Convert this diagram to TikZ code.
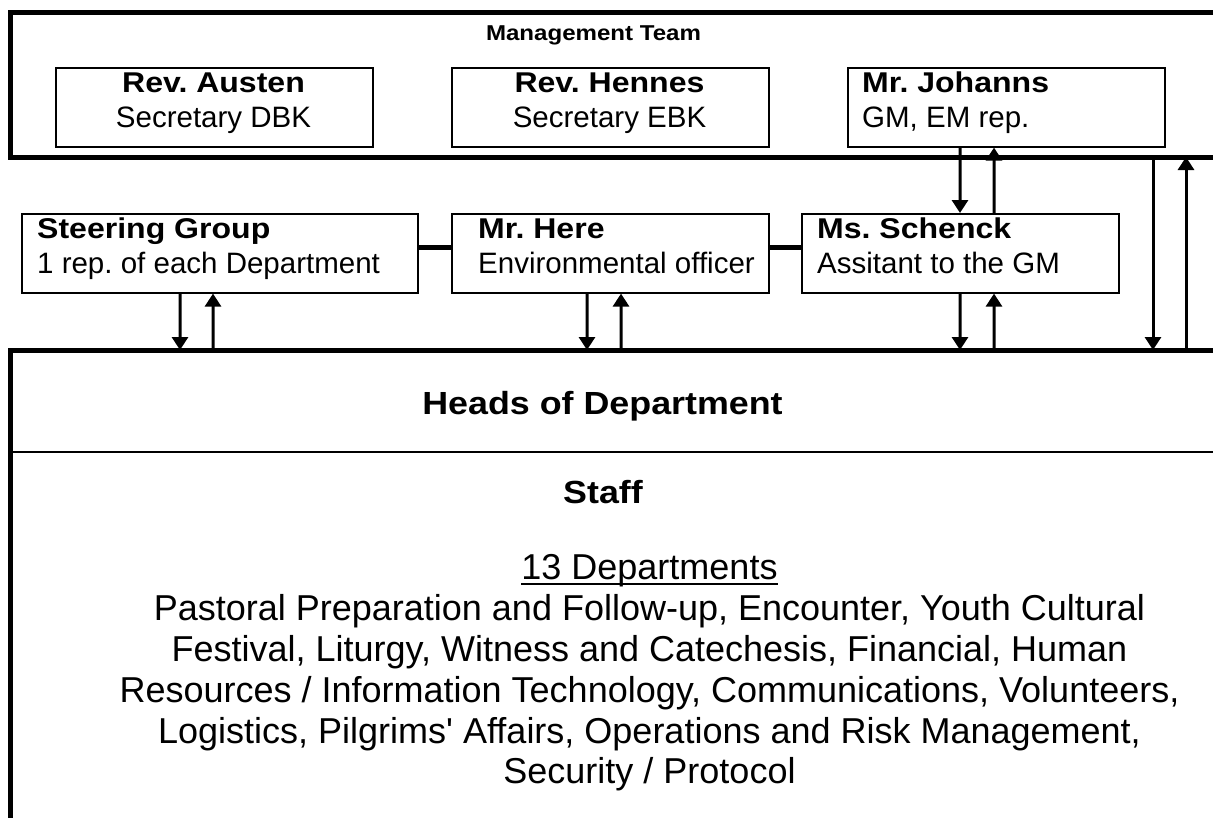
\documentclass[tikz,border=0pt]{standalone}
\usepackage{fontspec}
\newfontfamily\arial{Liberation Sans}
\newfontfamily\arialb{Liberation Sans}[FakeStretch=1.12]
\usetikzlibrary{arrows.meta}
\frenchspacing
\begin{document}
\begin{tikzpicture}[x=1bp,y=-1bp,
  frame/.style={line width=5bp},
  thin/.style={line width=2bp},
  box/.style={draw, line width=1.6bp, rectangle, inner sep=0pt, anchor=north west,
    minimum width=317bp, minimum height=79bp},
  arr/.style={line width=3bp, -{Triangle[width=16bp,length=13bp]}},
  link/.style={line width=5bp},
  nm/.style={font=\arialb\bfseries\fontsize{28.6bp}{34bp}\selectfont, inner sep=0pt},
  sub/.style={font=\arial\fontsize{29.5bp}{35bp}\selectfont, inner sep=0pt},
  big/.style={font=\arialb\bfseries\fontsize{32bp}{38bp}\selectfont, inner sep=0pt, anchor=base},
  dept/.style={font=\arial\fontsize{36bp}{41bp}\selectfont, inner sep=0pt, anchor=base},
  small/.style={font=\arialb\bfseries\fontsize{21.5bp}{26bp}\selectfont, inner sep=0pt, anchor=base}
]
\useasboundingbox (0,0) rectangle (1213,818);
\clip (0,0) rectangle (1213,818);

% Management team frame
\coordinate (mtTR) at (1230,13);
\coordinate (mtTL) at (10.5,13);
\coordinate (mtBL) at (10.5,157);
\coordinate (mtBR) at (1230,157);
\draw[frame] (mtTR) -- (mtTL) -- (mtBL) -- (mtBR);
\node[small] (mt) at (593.5,41) {Management Team};

% Heads of department frame
\coordinate (hdTR) at (1230,350);
\coordinate (hdTL) at (10.5,350);
\coordinate (hdBL) at (10.5,830);
\draw[frame] (hdTR) -- (hdTL) -- (hdBL);
\coordinate (sfL) at (10.5,452);
\coordinate (sfR) at (1230,452);
\draw[thin] (sfL) -- (sfR);

% Top row boxes
\node[box] (austen) at (55,67) {};
\node[box] (hennes) at (451,67) {};
\node[box] (johanns) at (847,67) {};
\node[nm, anchor=base] (austenA) at (213.5,92.7) {Rev. Austen};
\node[sub, anchor=base] (austenB) at (213.5,127) {Secretary DBK};
\node[nm, anchor=base] (hennesA) at (609.5,92.7) {Rev. Hennes};
\node[sub, anchor=base] (hennesB) at (609.5,127) {Secretary EBK};
\node[nm, anchor=base west] (johannsA) at (862,92.7) {Mr. Johanns};
\node[sub, anchor=base west] (johannsB) at (862,127) {GM, EM rep.};

% Middle row boxes
\node[box, minimum width=396bp] (steer) at (21,213) {};
\node[box] (here) at (451,213) {};
\node[box] (schenck) at (801,213) {};
\node[nm, anchor=base west] (steerA) at (37,238) {Steering Group};
\node[sub, anchor=base west] (steerB) at (37,273) {1 rep. of each Department};
\node[nm, anchor=base west] (hereA) at (478,238) {Mr. Here};
\node[sub, anchor=base west] (hereB) at (478,273) {Environmental officer};
\node[nm, anchor=base west] (schenckA) at (817,238) {Ms. Schenck};
\node[sub, anchor=base west] (schenckB) at (817,273) {Assitant to the GM};

% links between middle boxes
\draw[link] ([yshift=6bp]steer.east) -- ([yshift=6bp]here.west);
\draw[link] ([yshift=6bp]here.east) -- ([yshift=6bp]schenck.west);

% arrows Johanns <-> Schenck
\draw[arr] ([xshift=113bp]johanns.south west) -- ([xshift=159bp]schenck.north west);
\draw[arr] ([xshift=193bp]schenck.north west) -- ([xshift=147bp]johanns.south west);

% arrows management frame <-> heads
\coordinate (mtA) at (1153,157);
\coordinate (hdA) at (1153,350);
\coordinate (mtB) at (1186,157);
\coordinate (hdB) at (1186,350);
\draw[arr] (mtA) -- (hdA);
\draw[arr] (hdB) -- (mtB);

% arrows middle boxes <-> heads
\coordinate (hd1) at (180,350);
\coordinate (hd2) at (213,350);
\coordinate (hd3) at (587,350);
\coordinate (hd4) at (621,350);
\coordinate (hd5) at (960,350);
\coordinate (hd6) at (994,350);
\draw[arr] ([xshift=159bp]steer.south west) -- (hd1);
\draw[arr] (hd2) -- ([xshift=192bp]steer.south west);
\draw[arr] ([xshift=136bp]here.south west) -- (hd3);
\draw[arr] (hd4) -- ([xshift=170bp]here.south west);
\draw[arr] ([xshift=159bp]schenck.south west) -- (hd5);
\draw[arr] (hd6) -- ([xshift=193bp]schenck.south west);

% Heads / staff texts
\node[big] (heads) at (602.5,414) {Heads of Department};
\node[big] (staff) at (603,503) {Staff};
\node[dept] (d13) at (649.5,579.5) {13 Departments};
\draw[thin] ([yshift=-4.5bp]d13.base west) -- ([yshift=-4.5bp]d13.base east);
\node[dept] (l1) at (649.5,620.5) {Pastoral Preparation and Follow-up, Encounter, Youth Cultural};
\node[dept] (l2) at (649.5,661.5) {Festival, Liturgy, Witness and Catechesis, Financial, Human};
\node[dept] (l3) at (649.5,702) {Resources / Information Technology, Communications, Volunteers,};
\node[dept] (l4) at (649.5,743) {Logistics, Pilgrims' Affairs, Operations and Risk Management,};
\node[dept] (l5) at (649.5,783.5) {Security / Protocol};
\end{tikzpicture}
\end{document}
